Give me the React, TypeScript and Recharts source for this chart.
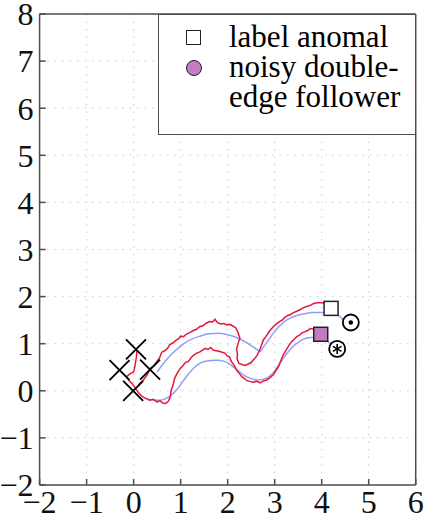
import React from "react";
import {
  ComposedChart,
  Line,
  Scatter,
  XAxis,
  YAxis,
  CartesianGrid,
  Legend,
} from "recharts";

const xTicks = [-2, -1, 0, 1, 2, 3, 4, 5, 6];
const yTicks = [-2, -1, 0, 1, 2, 3, 4, 5, 6, 7, 8];

// smooth centre lines (blue)
const upperBlueA = [
  { x: 0.5, y: 0.4 }, { x: 0.65, y: 0.6 }, { x: 0.8, y: 0.77 }, { x: 1.0, y: 0.95 },
  { x: 1.2, y: 1.08 }, { x: 1.41, y: 1.16 }, { x: 1.6, y: 1.21 }, { x: 1.8, y: 1.22 },
  { x: 2.0, y: 1.19 }, { x: 2.26, y: 1.1 }, { x: 2.5, y: 0.96 }, { x: 2.69, y: 0.83 },
];
const upperBlueB = [
  { x: 2.69, y: 0.83 }, { x: 2.85, y: 1.05 }, { x: 2.97, y: 1.22 }, { x: 3.1, y: 1.37 },
  { x: 3.25, y: 1.5 }, { x: 3.45, y: 1.59 }, { x: 3.61, y: 1.63 }, { x: 3.8, y: 1.66 },
  { x: 4.03, y: 1.66 }, { x: 4.2, y: 1.64 }, { x: 4.35, y: 1.6 }, { x: 4.46, y: 1.5 },
];
const lowerBlue = [
  { x: 0.3, y: -0.18 }, { x: 0.55, y: -0.2 }, { x: 0.75, y: -0.13 }, { x: 0.94, y: 0.05 },
  { x: 1.12, y: 0.3 }, { x: 1.3, y: 0.5 }, { x: 1.5, y: 0.62 }, { x: 1.77, y: 0.65 },
  { x: 1.95, y: 0.62 }, { x: 2.12, y: 0.51 }, { x: 2.4, y: 0.3 }, { x: 2.62, y: 0.23 },
  { x: 2.83, y: 0.27 }, { x: 3.0, y: 0.42 }, { x: 3.11, y: 0.58 }, { x: 3.25, y: 0.78 },
  { x: 3.39, y: 0.94 }, { x: 3.55, y: 1.06 }, { x: 3.75, y: 1.13 }, { x: 3.95, y: 1.13 },
  { x: 4.1, y: 1.07 }, { x: 4.2, y: 0.98 }, { x: 4.28, y: 0.91 },
];

// noisy edges (red)
const upperRed = [
  { x: 0.1, y: 0.12 }, { x: 0.18, y: 0.2 }, { x: 0.24, y: 0.27 }, { x: 0.3, y: 0.36 },
  { x: 0.35, y: 0.48 }, { x: 0.42, y: 0.52 }, { x: 0.48, y: 0.6 }, { x: 0.55, y: 0.7 },
  { x: 0.6, y: 0.82 }, { x: 0.66, y: 0.85 }, { x: 0.72, y: 0.9 }, { x: 0.77, y: 0.98 },
  { x: 0.84, y: 1.02 }, { x: 0.9, y: 1.07 }, { x: 0.95, y: 1.1 }, { x: 1.0, y: 1.16 },
  { x: 1.06, y: 1.15 }, { x: 1.12, y: 1.2 }, { x: 1.2, y: 1.24 }, { x: 1.27, y: 1.28 },
  { x: 1.33, y: 1.3 }, { x: 1.4, y: 1.36 }, { x: 1.47, y: 1.38 }, { x: 1.55, y: 1.44 },
  { x: 1.62, y: 1.47 }, { x: 1.68, y: 1.46 }, { x: 1.73, y: 1.52 }, { x: 1.78, y: 1.45 },
  { x: 1.85, y: 1.42 }, { x: 1.92, y: 1.43 }, { x: 1.98, y: 1.4 }, { x: 2.05, y: 1.41 },
  { x: 2.12, y: 1.37 }, { x: 2.17, y: 1.34 }, { x: 2.22, y: 1.24 }, { x: 2.26, y: 1.12 },
  { x: 2.22, y: 1.0 }, { x: 2.19, y: 0.88 }, { x: 2.21, y: 0.78 }, { x: 2.2, y: 0.68 },
  { x: 2.24, y: 0.58 }, { x: 2.3, y: 0.56 }, { x: 2.37, y: 0.54 }, { x: 2.44, y: 0.57 },
  { x: 2.5, y: 0.6 }, { x: 2.55, y: 0.66 }, { x: 2.62, y: 0.74 }, { x: 2.68, y: 0.86 },
  { x: 2.72, y: 0.97 }, { x: 2.76, y: 1.08 }, { x: 2.82, y: 1.16 }, { x: 2.87, y: 1.24 },
  { x: 2.92, y: 1.3 }, { x: 2.98, y: 1.37 }, { x: 3.04, y: 1.42 }, { x: 3.1, y: 1.47 },
  { x: 3.16, y: 1.5 }, { x: 3.22, y: 1.56 }, { x: 3.28, y: 1.6 }, { x: 3.34, y: 1.62 },
  { x: 3.4, y: 1.66 }, { x: 3.47, y: 1.69 }, { x: 3.54, y: 1.72 }, { x: 3.6, y: 1.76 },
  { x: 3.68, y: 1.79 }, { x: 3.75, y: 1.81 }, { x: 3.82, y: 1.85 }, { x: 3.89, y: 1.87 },
  { x: 3.96, y: 1.87 }, { x: 4.03, y: 1.87 }, { x: 4.1, y: 1.8 },
];
const lowerRed = [
  { x: 0.07, y: 0.85 }, { x: 0.06, y: 0.72 }, { x: 0.04, y: 0.6 }, { x: 0.02, y: 0.48 },
  { x: 0.0, y: 0.4 }, { x: -0.08, y: 0.36 }, { x: -0.15, y: 0.3 }, { x: -0.1, y: 0.22 },
  { x: -0.02, y: 0.14 }, { x: 0.06, y: 0.02 }, { x: 0.12, y: -0.06 }, { x: 0.18, y: -0.12 },
  { x: 0.26, y: -0.16 }, { x: 0.34, y: -0.2 }, { x: 0.42, y: -0.18 }, { x: 0.5, y: -0.24 },
  { x: 0.56, y: -0.21 }, { x: 0.62, y: -0.26 }, { x: 0.68, y: -0.27 }, { x: 0.74, y: -0.22 },
  { x: 0.78, y: -0.12 }, { x: 0.8, y: 0.02 }, { x: 0.84, y: 0.12 }, { x: 0.87, y: 0.26 },
  { x: 0.92, y: 0.36 }, { x: 0.98, y: 0.46 }, { x: 1.04, y: 0.52 }, { x: 1.1, y: 0.6 },
  { x: 1.16, y: 0.62 }, { x: 1.22, y: 0.7 }, { x: 1.28, y: 0.76 }, { x: 1.34, y: 0.8 },
  { x: 1.4, y: 0.82 }, { x: 1.46, y: 0.86 }, { x: 1.52, y: 0.9 }, { x: 1.58, y: 0.88 },
  { x: 1.64, y: 0.92 }, { x: 1.7, y: 0.86 }, { x: 1.76, y: 0.85 }, { x: 1.82, y: 0.84 },
  { x: 1.88, y: 0.82 }, { x: 1.94, y: 0.8 }, { x: 1.99, y: 0.74 }, { x: 2.04, y: 0.72 },
  { x: 2.08, y: 0.62 }, { x: 2.14, y: 0.54 }, { x: 2.19, y: 0.44 }, { x: 2.24, y: 0.38 },
  { x: 2.3, y: 0.3 }, { x: 2.36, y: 0.26 }, { x: 2.4, y: 0.22 }, { x: 2.47, y: 0.2 },
  { x: 2.55, y: 0.18 }, { x: 2.62, y: 0.2 }, { x: 2.69, y: 0.17 }, { x: 2.76, y: 0.21 },
  { x: 2.83, y: 0.23 }, { x: 2.9, y: 0.28 }, { x: 2.97, y: 0.34 }, { x: 3.02, y: 0.42 },
  { x: 3.08, y: 0.51 }, { x: 3.13, y: 0.64 }, { x: 3.18, y: 0.76 }, { x: 3.24, y: 0.86 },
  { x: 3.3, y: 0.96 }, { x: 3.36, y: 1.04 }, { x: 3.42, y: 1.1 }, { x: 3.47, y: 1.15 },
  { x: 3.53, y: 1.18 }, { x: 3.58, y: 1.23 }, { x: 3.64, y: 1.25 }, { x: 3.7, y: 1.28 },
  { x: 3.76, y: 1.32 }, { x: 3.82, y: 1.31 }, { x: 3.89, y: 1.29 },
];

// markers
const crosses = [
  { x: 0.05, y: 0.88 }, { x: -0.3, y: 0.44 }, { x: 0.35, y: 0.45 }, { x: -0.01, y: 0.0 },
];
const labelAnomal = [{ x: 4.2, y: 1.75 }];
const follower = [{ x: 3.98, y: 1.2 }];
const dotTarget = [{ x: 4.62, y: 1.45 }];
const starTarget = [{ x: 4.33, y: 0.89 }];

const FONT = "'Liberation Serif', 'Times New Roman', serif";
const AXIS = "#4d4d4d";
const RED = "#e5173a";
const BLUE = "#929ff7";
const PURPLE = "#c27cc4";

const fmt = (v: number) => String(v).replace("-", "\u2212");

const XShape = (p: any) => (
  <g stroke="#000" strokeWidth={1.8}>
    <line x1={p.cx - 10} y1={p.cy - 10} x2={p.cx + 10} y2={p.cy + 10} />
    <line x1={p.cx - 10} y1={p.cy + 10} x2={p.cx + 10} y2={p.cy - 10} />
  </g>
);
const OpenSquare = (p: any) => (
  <rect x={p.cx - 7} y={p.cy - 7} width={14} height={14} fill="#fff" stroke="#222" strokeWidth={1.5} />
);
const FilledSquare = (p: any) => (
  <rect x={p.cx - 7} y={p.cy - 7} width={14} height={14} fill={PURPLE} stroke="#222" strokeWidth={1.5} />
);
const CircleDot = (p: any) => (
  <g>
    <circle cx={p.cx} cy={p.cy} r={8} fill="#fff" stroke="#000" strokeWidth={1.8} />
    <circle cx={p.cx} cy={p.cy} r={2.2} fill="#000" />
  </g>
);
const CircleStar = (p: any) => (
  <g stroke="#000" strokeWidth={1.6}>
    <circle cx={p.cx} cy={p.cy} r={8} fill="#fff" strokeWidth={1.8} />
    <line x1={p.cx} y1={p.cy - 5} x2={p.cx} y2={p.cy + 5} />
    <line x1={p.cx - 4.3} y1={p.cy - 2.5} x2={p.cx + 4.3} y2={p.cy + 2.5} />
    <line x1={p.cx - 4.3} y1={p.cy + 2.5} x2={p.cx + 4.3} y2={p.cy - 2.5} />
  </g>
);

function LegendBox() {
  const text: React.CSSProperties = {
    position: "absolute",
    left: 70,
    fontFamily: FONT,
    fontSize: 31,
    lineHeight: "30px",
    color: "#000",
    whiteSpace: "nowrap",
  };
  return (
    <div
      style={{
        position: "relative",
        width: 258,
        height: 121,
        boxSizing: "border-box",
        border: `1.5px solid ${AXIS}`,
        background: "#fff",
      }}
    >
      <div
        style={{
          position: "absolute", left: 27, top: 15, width: 15, height: 15,
          boxSizing: "border-box", border: "1.5px solid #222", background: "#fff",
        }}
      />
      <div
        style={{
          position: "absolute", left: 27, top: 45, width: 16, height: 16,
          boxSizing: "border-box", border: "1.5px solid #222", borderRadius: "50%", background: PURPLE,
        }}
      />
      <div style={{ ...text, top: 7 }}>label anomal</div>
      <div style={{ ...text, top: 37 }}>noisy double-</div>
      <div style={{ ...text, top: 67 }}>edge follower</div>
    </div>
  );
}

export default function App() {
  const tickStyle = { fontFamily: FONT, fontSize: 32, fill: "#111" };
  const line = { stroke: AXIS, strokeWidth: 1.5 };
  return (
    <div style={{ position: "absolute", left: 0, top: 0 }}>
      <ComposedChart
        width={424}
        height={517}
        margin={{ top: 0, right: 0, bottom: 0, left: 0 }}
      >
        <CartesianGrid
          xAxisId="b"
          yAxisId="l"
          stroke="#cccccc"
          strokeDasharray="1.5 6"
        />
        <XAxis
          xAxisId="b"
          type="number"
          dataKey="x"
          domain={[-2, 6]}
          ticks={xTicks}
          interval={0}
          allowDataOverflow
          height={32}
          tickSize={-6}
          tickMargin={11}
          tickFormatter={fmt}
          tick={tickStyle}
          axisLine={line}
          tickLine={line}
        />
        <XAxis
          xAxisId="t"
          orientation="top"
          type="number"
          dataKey="x"
          domain={[-2, 6]}
          ticks={xTicks}
          interval={0}
          height={14}
          tickSize={-6}
          tick={false}
          axisLine={line}
          tickLine={line}
        />
        <YAxis
          yAxisId="l"
          type="number"
          dataKey="y"
          domain={[-2, 8]}
          ticks={yTicks}
          interval={0}
          allowDataOverflow
          width={39.6}
          tickSize={-6}
          tickMargin={12}
          tickFormatter={fmt}
          tick={tickStyle}
          axisLine={line}
          tickLine={line}
        />
        <YAxis
          yAxisId="r"
          orientation="right"
          type="number"
          domain={[-2, 8]}
          ticks={yTicks}
          interval={0}
          width={8.3}
          tickSize={-6}
          tick={false}
          axisLine={line}
          tickLine={line}
        />

        <Line xAxisId="b" yAxisId="l" data={upperBlueA} dataKey="y" type="monotone" stroke={BLUE} strokeWidth={1.5} dot={false} activeDot={false} isAnimationActive={false} legendType="none" />
        <Line xAxisId="b" yAxisId="l" data={upperBlueB} dataKey="y" type="monotone" stroke={BLUE} strokeWidth={1.5} dot={false} activeDot={false} isAnimationActive={false} legendType="none" />
        <Line xAxisId="b" yAxisId="l" data={lowerBlue} dataKey="y" type="monotone" stroke={BLUE} strokeWidth={1.5} dot={false} activeDot={false} isAnimationActive={false} legendType="none" />
        <Line xAxisId="b" yAxisId="l" data={upperRed} dataKey="y" type="linear" stroke={RED} strokeWidth={1.5} dot={false} activeDot={false} isAnimationActive={false} legendType="none" />
        <Line xAxisId="b" yAxisId="l" data={lowerRed} dataKey="y" type="linear" stroke={RED} strokeWidth={1.5} dot={false} activeDot={false} isAnimationActive={false} legendType="none" />

        <Scatter xAxisId="b" yAxisId="l" data={crosses} dataKey="y" shape={XShape} isAnimationActive={false} legendType="none" />
        <Scatter xAxisId="b" yAxisId="l" data={labelAnomal} dataKey="y" shape={OpenSquare} isAnimationActive={false} legendType="none" />
        <Scatter xAxisId="b" yAxisId="l" data={follower} dataKey="y" shape={FilledSquare} isAnimationActive={false} legendType="none" />
        <Scatter xAxisId="b" yAxisId="l" data={dotTarget} dataKey="y" shape={CircleDot} isAnimationActive={false} legendType="none" />
        <Scatter xAxisId="b" yAxisId="l" data={starTarget} dataKey="y" shape={CircleStar} isAnimationActive={false} legendType="none" />

        <Legend
          layout="vertical"
          align="center"
          verticalAlign="middle"
          wrapperStyle={{ left: 158, top: 14, width: 258, height: 121 }}
          content={() => <LegendBox />}
        />
      </ComposedChart>
    </div>
  );
}
